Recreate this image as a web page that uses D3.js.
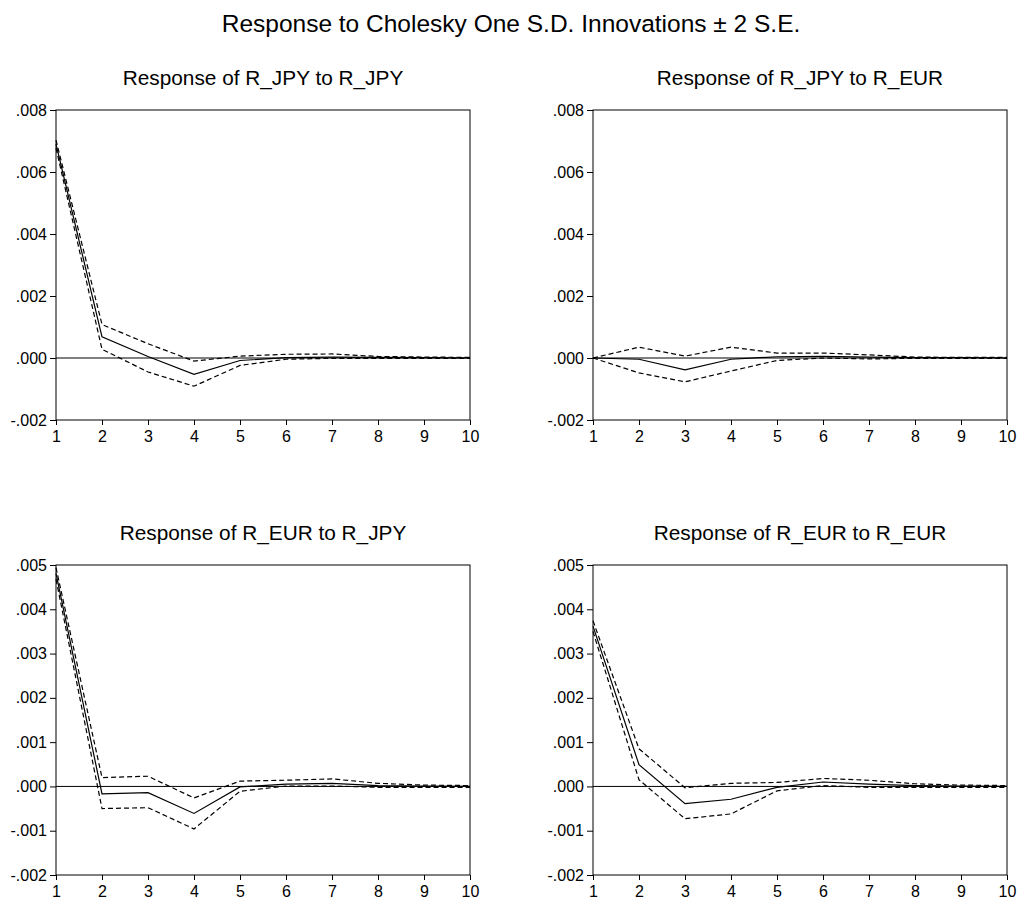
<!DOCTYPE html>
<html>
<head>
<meta charset="utf-8">
<script src="https://cdn.jsdelivr.net/npm/d3@7"></script>
<style>
  body { margin: 0; background: #fff; }
  text { font-family: "Liberation Sans", Arial, sans-serif; fill: #000; }
  .axis path, .axis line { stroke: #000; }
</style>
</head>
<body>
<div id="chart"></div>
<script>
// periods
var periods = [1, 2, 3, 4, 5, 6, 7, 8, 9, 10];

// Response of R_JPY to R_JPY
var jpyJpy      = [0.00690, 0.00068, 0.00005, -0.00053, -0.00008, 0.00001, 0.00003, 0.00002, 0.00001, 0.00000];
var jpyJpyUpper = [0.00703, 0.00108, 0.00046, -0.00010, 0.00006, 0.00012, 0.00013, 0.00005, 0.00003, 0.00002];
var jpyJpyLower = [0.00677, 0.00028, -0.00045, -0.00091, -0.00024, -0.00004, -0.00001, -0.00001, -0.00001, -0.00001];

// Response of R_JPY to R_EUR
var jpyEur      = [0.00000, -0.00004, -0.00038, -0.00004, 0.00004, 0.00005, 0.00003, 0.00001, 0.00001, 0.00000];
var jpyEurUpper = [0.00000, 0.00035, 0.00006, 0.00035, 0.00016, 0.00016, 0.00010, 0.00003, 0.00002, 0.00002];
var jpyEurLower = [0.00000, -0.00048, -0.00077, -0.00042, -0.00008, 0.00000, -0.00003, -0.00001, -0.00001, -0.00001];

// Response of R_EUR to R_JPY
var eurJpy      = [0.00481, -0.00017, -0.00014, -0.00061, -0.00001, 0.00005, 0.00007, 0.00002, 0.00001, 0.00000];
var eurJpyUpper = [0.00494, 0.00020, 0.00023, -0.00026, 0.00012, 0.00014, 0.00017, 0.00007, 0.00003, 0.00002];
var eurJpyLower = [0.00468, -0.00050, -0.00048, -0.00096, -0.00011, 0.00001, 0.00001, -0.00002, -0.00002, -0.00002];

// Response of R_EUR to R_EUR
var eurEur      = [0.00362, 0.00049, -0.00039, -0.00029, -0.00002, 0.00010, 0.00005, 0.00002, 0.00001, 0.00000];
var eurEurUpper = [0.00374, 0.00085, -0.00003, 0.00007, 0.00009, 0.00018, 0.00014, 0.00006, 0.00003, 0.00002];
var eurEurLower = [0.00350, 0.00015, -0.00073, -0.00062, -0.00010, 0.00002, -0.00002, -0.00002, -0.00002, -0.00002];

var titles = ["Response of R_JPY to R_JPY", "Response of R_JPY to R_EUR",
              "Response of R_EUR to R_JPY", "Response of R_EUR to R_EUR"];
var yDomains = [[-0.002, 0.008], [-0.002, 0.008], [-0.002, 0.005], [-0.002, 0.005]];
var yTickValues = [
  [-0.002, 0, 0.002, 0.004, 0.006, 0.008],
  [-0.002, 0, 0.002, 0.004, 0.006, 0.008],
  [-0.002, -0.001, 0, 0.001, 0.002, 0.003, 0.004, 0.005],
  [-0.002, -0.001, 0, 0.001, 0.002, 0.003, 0.004, 0.005]
];
var series = [
  [jpyJpy, jpyJpyUpper, jpyJpyLower],
  [jpyEur, jpyEurUpper, jpyEurLower],
  [eurJpy, eurJpyUpper, eurJpyLower],
  [eurEur, eurEurUpper, eurEurLower]
];

var width = 1020, height = 904;
var svg = d3.select("#chart").append("svg")
  .attr("width", width)
  .attr("height", height);

// Main title
svg.append("text")
  .attr("x", 511)
  .attr("y", 32)
  .attr("text-anchor", "middle")
  .style("font-size", "24.5px")
  .text("Response to Cholesky One S.D. Innovations \u00B1 2 S.E.");

// panel frames (left, top) - plot area 414 x 310
var panelLeft = [56, 593, 56, 593];
var panelTop = [110, 110, 565, 565];
var pw = 414, ph = 310;

// EViews-like tick format: ".008", "-.002"
function fmt(d) {
  var s = Math.abs(d).toFixed(3).replace(/^0/, "");
  return (d < 0 ? "-" : "") + s;
}

titles.forEach(function(title, i) {
  var g = svg.append("g")
    .attr("transform", "translate(" + panelLeft[i] + "," + panelTop[i] + ")");

  var x = d3.scaleLinear().domain([1, 10]).range([0, pw]);
  var y = d3.scaleLinear().domain(yDomains[i]).range([ph, 0]);

  // subtitle
  g.append("text")
    .attr("x", pw / 2)
    .attr("y", -25)
    .attr("text-anchor", "middle")
    .style("font-size", "20.8px")
    .text(title);

  // frame
  g.append("rect")
    .attr("width", pw)
    .attr("height", ph)
    .attr("fill", "none")
    .attr("stroke", "#000")
    .attr("stroke-width", 1);

  // axes
  var xAxis = d3.axisBottom(x).tickValues(periods).tickSize(5).tickPadding(6)
    .tickFormat(d3.format("d"));
  var gx = g.append("g")
    .attr("class", "axis x-axis")
    .attr("transform", "translate(0," + ph + ")")
    .call(xAxis);
  gx.select(".domain").remove();
  gx.selectAll("text").style("font-size", "16px");

  var yAxis = d3.axisLeft(y).tickValues(yTickValues[i]).tickSize(6).tickPadding(3)
    .tickFormat(fmt);
  var gy = g.append("g")
    .attr("class", "axis y-axis")
    .call(yAxis);
  gy.select(".domain").remove();
  gy.selectAll("text").style("font-size", "16px");

  // zero line
  g.append("line")
    .attr("x1", 0).attr("x2", pw)
    .attr("y1", y(0)).attr("y2", y(0))
    .attr("stroke", "#000")
    .attr("stroke-width", 1);

  var line = d3.line()
    .x(function(d, k) { return x(periods[k]); })
    .y(function(d) { return y(d); });

  // response and bands
  series[i].forEach(function(vals, j) {
    g.append("path")
      .attr("d", line(vals))
      .attr("fill", "none")
      .attr("stroke", "#000")
      .attr("stroke-width", 1.2)
      .attr("stroke-dasharray", j === 0 ? null : "5,3");
  });
});
</script>
</body>
</html>
